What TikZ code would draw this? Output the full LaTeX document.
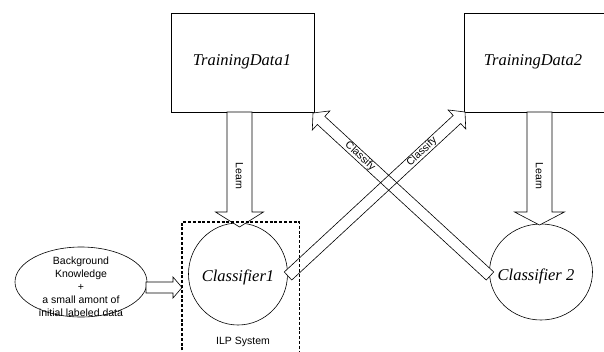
\documentclass[tikz,border=0pt]{standalone}
\usepackage{fontspec}
\setmainfont{Liberation Sans}
\newfontfamily\serifit{Liberation Serif}
\usetikzlibrary{calc,shapes.geometric}
\tikzset{
  blk/.style={draw=black, line width=0.6pt, fill=white, line join=miter},
  blkfill/.style={fill=white},
  blkline/.style={draw=black, line width=0.6pt, line join=miter},
  boxnode/.style={draw, line width=0.7pt, minimum width=143pt, minimum height=99pt, inner sep=0pt},
  clsnode/.style={draw, ellipse, line width=0.6pt, inner sep=0pt},
  itlabel/.style={font=\serifit\itshape\fontsize{16.5}{18}\selectfont},
  smlabel/.style={font=\fontsize{10.5}{13}\selectfont, inner sep=0pt},
}
\newcommand\blockarrow[7]{% tail, tip, shaft half, head half, head length, name, style
  \coordinate (#6hb) at ($(#2)!#5!(#1)$);
  \path[#7] ($(#1)!#3!90:(#2)$) -- ($(#6hb)!#3!-90:(#1)$) -- ($(#6hb)!#4!-90:(#1)$) -- (#2)
     -- ($(#6hb)!#4!90:(#1)$) -- ($(#6hb)!#3!90:(#1)$) -- ($(#1)!#3!-90:(#2)$) -- cycle;
}
\begin{document}
\begin{tikzpicture}[x=1pt,y=-1pt]
\useasboundingbox (0,0) rectangle (604,351);
\clip (0,0) rectangle (604,351);
\fill[white] (0,0) rectangle (604,351);

% training data boxes
\node[boxnode] (td1) at (242.5,62.5) {};
\node[itlabel] at (242,62) {TrainingData1};
\draw[line width=0.7pt] (464,13) -- (464,112);
\draw[line width=0.7pt] (464,13) -- (610,13);
\draw[line width=0.7pt] (464,112) -- (610,112);
\node[itlabel] (td2lbl) at (533,62) {TrainingData2};
\coordinate (td2) at (534,62.5);

% classifiers
\node[clsnode, minimum width=99pt, minimum height=102pt] (c1) at (238,274) {};
\node[itlabel] at (238,277) {Classifier1};
\node[clsnode, minimum width=103pt, minimum height=96pt] (c2) at (541,272) {};
\node[itlabel] at (536,276) {Classifier 2};

% background ellipse
\node[draw, ellipse, line width=0.6pt, minimum width=132pt, minimum height=70pt, inner sep=0pt] (bg) at (81,282) {};
\node[smlabel, align=center] at (81,287) {Background\\Knowledge\\+\\a small amont of\\initial labeled data};

% learn arrows
\coordinate (l1t) at (239.5,112);
\coordinate (l1h) at (239.5,227);
\blockarrow{l1t}{l1h}{12.5pt}{24pt}{15pt}{la}{blk}
\node[smlabel, rotate=-90] at (239.5,176) {Learn};
\coordinate (l2t) at (539.5,112);
\coordinate (l2h) at (539.5,225);
\blockarrow{l2t}{l2h}{12.5pt}{25pt}{13pt}{lb}{blk}
\node[smlabel, rotate=-90] at (539.5,176) {Learn};

% small input arrow
\coordinate (st) at (146,287.5);
\coordinate (sh) at (182,287.5);
\blockarrow{st}{sh}{5.5pt}{10.5pt}{9pt}{sa}{blk}

% classify arrows (crossing outlines both visible)
\coordinate (at) at (288,276);
\coordinate (ah) at (465,112);
\coordinate (bt) at (490,276);
\coordinate (bh) at (313,113);
\blockarrow{at}{ah}{5.5pt}{13pt}{11pt}{ca}{blkfill}
\blockarrow{bt}{bh}{5.5pt}{13pt}{11pt}{cb}{blkfill}
\blockarrow{at}{ah}{5.5pt}{13pt}{11pt}{ca}{blkline}
\blockarrow{bt}{bh}{5.5pt}{13pt}{11pt}{cb}{blkline}
\path (at) -- (ah) node[pos=0.757, sloped, smlabel] {Classify};
\path (bt) -- (bh) node[pos=0.734, sloped, smlabel] {Classify};

% ILP system dashed box
\draw[line width=1.3pt, dash pattern=on 3pt off 1.8pt] (182,360) -- (182,222) -- (299.5,222) -- (299.5,360);
\node[smlabel] (ilp) at (243,342) {ILP System};
\end{tikzpicture}
\end{document}
